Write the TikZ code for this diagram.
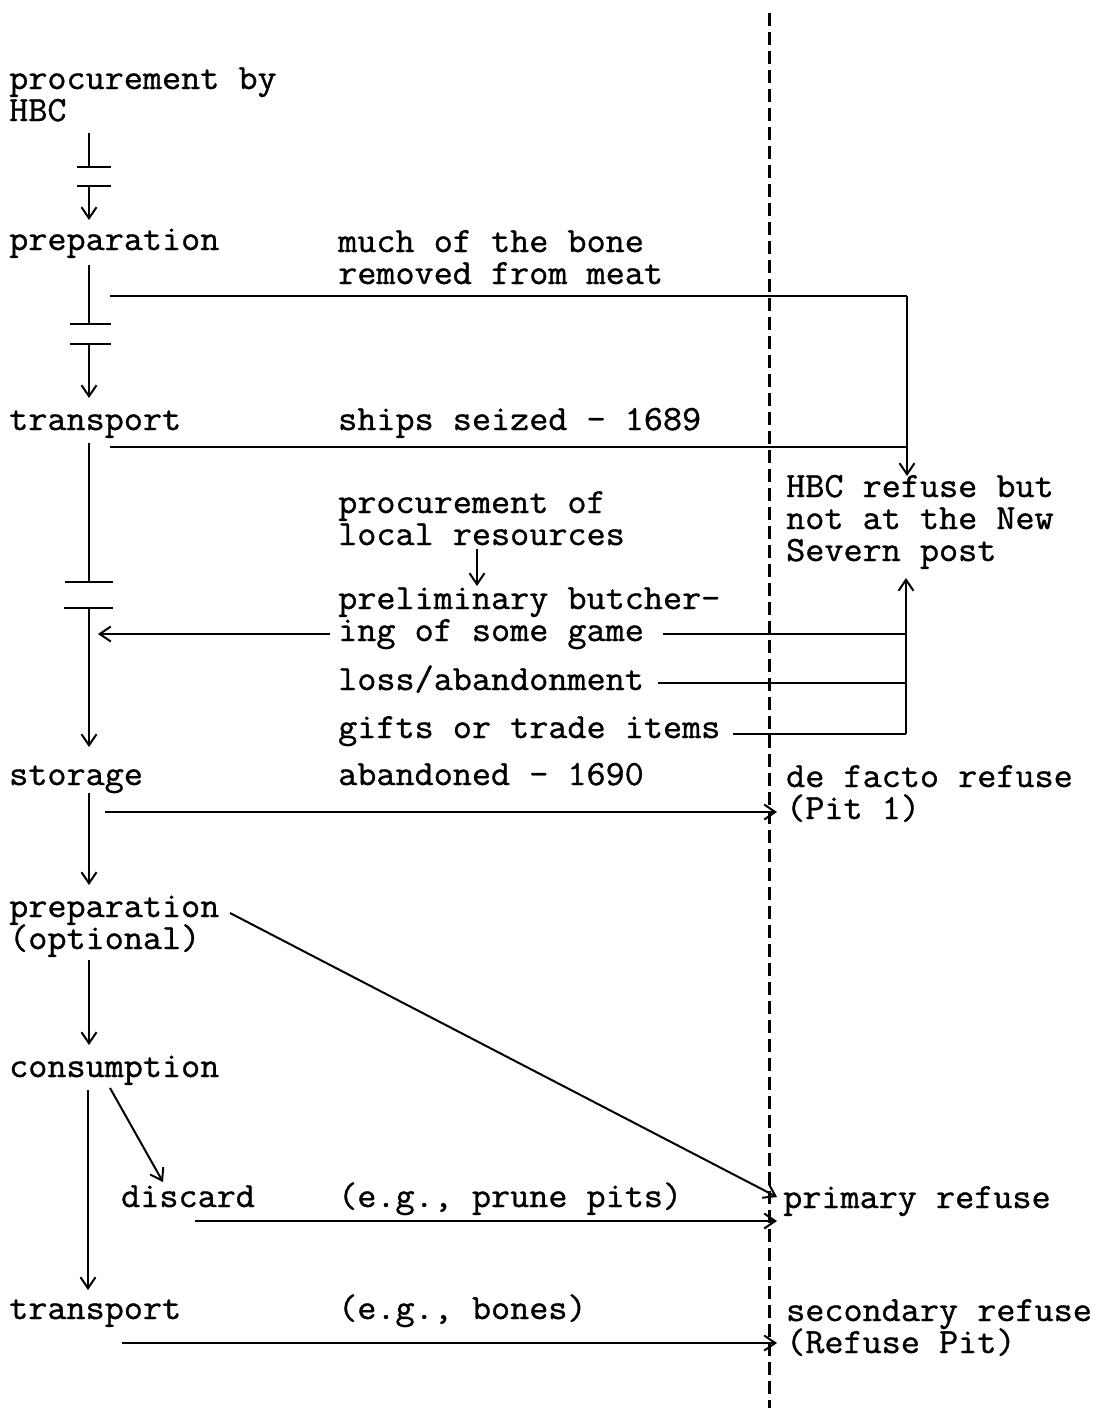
\documentclass[tikz,border=0pt]{standalone}
\usepackage{fontspec}
\newfontfamily\tw{Latin Modern Mono}[FakeBold=1, FakeStretch=1.045]
\usetikzlibrary{arrows.meta}
\begin{document}
\begin{tikzpicture}[x=1pt,y=-1pt,
  txt/.style={anchor=base west, inner sep=0pt, text height=20pt, text depth=6pt,
              font=\tw\fontsize{35.5pt}{32pt}\selectfont},
  ln/.style={line width=2pt},
  arr/.style={ln, -{Straight Barb[length=11pt,width=15pt]}},
  brk/.style={line width=2pt},
  boundary/.style={line width=3pt, dash pattern=on 13pt off 6pt}]
\fill[white] (0,0) rectangle (1098,1408);
\useasboundingbox (0,0) rectangle (1098,1408);

% ---- left column: the chain of stages
\node[txt] (procA) at (9,89)   {procurement by};
\node[txt] (procB) at (9,121)  {HBC};
\node[txt] (prepA) at (9,250)  {preparation};
\node[txt] (trA)   at (9,430)  {transport};
\node[txt] (stor)  at (9,785)  {storage};
\node[txt] (prepB) at (9,917)  {preparation};
\node[txt] (prepC) at (9,949)  {(optional)};
\node[txt] (cons)  at (9,1077) {consumption};
\node[txt] (disc)  at (121,1207) {discard};
\node[txt] (trB)   at (9,1319) {transport};

% ---- middle column: events
\node[txt] (boneA) at (338,252) {much of the bone};
\node[txt] (boneB) at (338,284) {removed from meat};
\node[txt] (ships) at (338,430) {ships seized - 1689};
\node[txt] (locA)  at (338,513) {procurement of};
\node[txt] (locB)  at (338,545) {local resources};
\node[txt] (butA)  at (338,609) {preliminary butcher-};
\node[txt] (butB)  at (338,641) {ing of some game};
\node[txt] (loss)  at (338,690) {loss/abandonment};
\node[txt] (gift)  at (338,738) {gifts or trade items};
\node[txt] (aban)  at (338,785) {abandoned - 1690};
\node[txt] (prune) at (338,1207) {(e.g., prune pits)};
\node[txt] (bones) at (338,1319) {(e.g., bones)};

% ---- right column: kinds of refuse
\node[txt] (hbcA)  at (786,497) {HBC refuse but};
\node[txt] (hbcB)  at (786,529) {not at the New};
\node[txt] (hbcC)  at (786,561) {Severn post};
\node[txt] (dfA)   at (786,787) {de facto refuse};
\node[txt] (dfB)   at (786,819) {(Pit 1)};
\node[txt] (prim)  at (783,1208) {primary refuse};
\node[txt] (secA)  at (786,1321) {secondary refuse};
\node[txt] (secB)  at (786,1353) {(Refuse Pit)};

% ---- site boundary
\coordinate (bTop) at (769,13);
\coordinate (bBot) at (769,1408);
\draw[boundary] (bTop) -- (bBot);

% ---- stage chain with breaks
\coordinate (s1a) at (89,133);  \coordinate (s1b) at (89,167);
\coordinate (s1c) at (89,186);  \coordinate (s1d) at (89,220);
\draw[ln] (s1a) -- (s1b);
\draw[brk] (77,167) -- (111,167);
\draw[brk] (77,186) -- (111,186);
\draw[arr] (s1c) -- (s1d);

\coordinate (s2a) at (89,265);  \coordinate (s2b) at (89,324);
\coordinate (s2c) at (89,344);  \coordinate (s2d) at (89,398);
\draw[ln] (s2a) -- (s2b);
\draw[brk] (70,324) -- (111,324);
\draw[brk] (70,344) -- (111,344);
\draw[arr] (s2c) -- (s2d);

\coordinate (s3a) at (89,443);  \coordinate (s3b) at (89,582);
\coordinate (s3c) at (89,608);  \coordinate (s3d) at (89,747);
\draw[ln] (s3a) -- (s3b);
\draw[brk] (65,582) -- (113,582);
\draw[brk] (64,608) -- (113,608);
\draw[arr] (s3c) -- (s3d);

\coordinate (s4a) at (89,793);  \coordinate (s4b) at (89,885);
\draw[arr] (s4a) -- (s4b);
\coordinate (s5a) at (89,960);  \coordinate (s5b) at (89,1045);
\draw[arr] (s5a) -- (s5b);
\coordinate (s6a) at (88,1090); \coordinate (s6b) at (88,1290);
\draw[arr] (s6a) -- (s6b);
\coordinate (s7a) at (110,1088); \coordinate (s7b) at (163,1182);
\draw[arr] (s7a) -- (s7b);

% ---- flows to HBC refuse elsewhere
\coordinate (hbcIn) at (907,476);
\draw[ln] (110,296) -- (907,296);
\draw[ln] (110,447) -- (907,447);
\draw[arr] (907,296) -- (hbcIn);

\coordinate (locOut) at (477,549); \coordinate (butIn) at (477,586);
\draw[arr] (locOut) -- (butIn);
\coordinate (gameL) at (330,634); \coordinate (chainIn) at (98,634);
\draw[arr] (gameL) -- (chainIn);
\draw[ln] (663,634) -- (906,634);
\draw[ln] (658,683) -- (906,683);
\draw[ln] (733,734) -- (906,734);
\coordinate (hbcUp) at (906,578);
\draw[arr] (906,734) -- (hbcUp);

% ---- flows across the boundary
\coordinate (storOut) at (105,812); \coordinate (dfIn) at (777,812);
\draw[arr] (storOut) -- (dfIn);
\coordinate (prepOut) at (230,913); \coordinate (primIn) at (777,1197);
\draw[arr] (prepOut) -- (primIn);
\coordinate (discOut) at (195,1221); \coordinate (primIn2) at (777,1221);
\draw[arr] (discOut) -- (primIn2);
\coordinate (trOut) at (122,1343); \coordinate (secIn) at (777,1343);
\draw[arr] (trOut) -- (secIn);
\end{tikzpicture}
\end{document}
